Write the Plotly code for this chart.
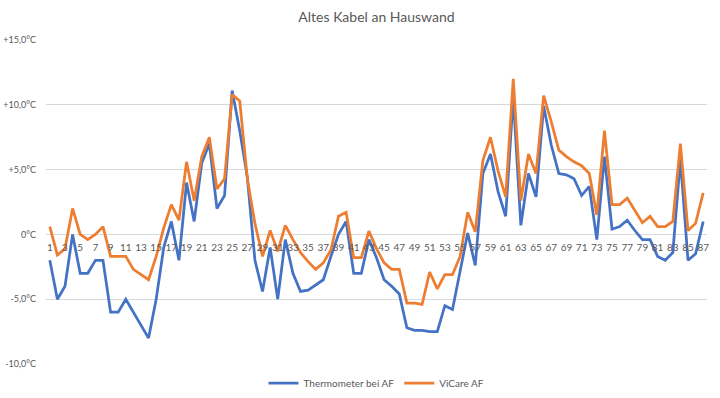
import plotly.graph_objects as go

categories = [str(i) for i in range(1, 88)]

thermometer = [-2, -5, -4, 0, -3, -3, -2, -2, -6, -6,
               -5, -6, -7, -8, -5, -1, 1, -2, 4, 1,
               5.5, 7, 2, 3, 11.1, 8, 4.4, -2, -4.4, -1,
               -5, -0.4, -3, -4.4, -4.3, -3.9, -3.5, -1.7, 0, 1,
               -3, -3, -0.4, -1.8, -3.5, -4, -4.6, -7.2, -7.4, -7.4,
               -7.5, -7.5, -5.5, -5.8, -2.7, 0.1, -2.4, 4.7, 6.2, 3.3,
               1.4, 10.6, 0.7, 4.7, 2.9, 9.9, 6.9, 4.7, 4.6, 4.3,
               3.0, 3.7, -0.4, 6.0, 0.4, 0.6, 1.1, 0.3, -0.4, -0.4,
               -1.7, -2.0, -1.4, 5.8, -2.0, -1.5, 1.0]

vicare = [0.6, -1.6, -1.1, 2, 0, -0.4, 0, 0.6, -1.7, -1.7,
          -1.7, -2.7, -3.1, -3.5, -1.7, 0.5, 2.3, 1.1, 5.6, 2.6,
          6, 7.5, 3.5, 4.3, 10.8, 10.3, 4.3, 0.85, -1.7, 0.3,
          -1.3, 0.7, -0.4, -1.4, -2.1, -2.7, -2.2, -1.2, 1.4, 1.7,
          -1.8, -1.8, 0.25, -1.1, -2.2, -2.7, -2.7, -5.3, -5.3, -5.4,
          -2.9, -4.2, -3.1, -3.1, -1.7, 1.7, 0.2, 5.7, 7.5, 4.9,
          2.9, 12.0, 2.6, 6.2, 4.7, 10.7, 8.7, 6.5, 6.0, 5.6,
          5.3, 4.7, 1.5, 8.0, 2.3, 2.3, 2.8, 1.9, 0.9, 1.4,
          0.6, 0.6, 1.0, 7.0, 0.3, 0.85, 3.2]

y_tickvals = [-10, -5, 0, 5, 10, 15]
y_ticktext = ["-10,0°C", "-5,0°C", "0°C", "+5,0°C", "+10,0°C", "+15,0°C"]
x_ticklabels = [str(i) for i in range(1, 88, 2)]

FONT = "Lato, 'Open Sans', sans-serif"
GREY = "#595959"

W, H = 720, 398

fig = go.Figure()
fig.add_trace(go.Scatter(x=categories, y=thermometer, mode="lines",
                         name="Thermometer bei AF",
                         line=dict(color="#4472C4", width=2.75)))
fig.add_trace(go.Scatter(x=categories, y=vicare, mode="lines",
                         name="ViCare AF",
                         line=dict(color="#ED7D31", width=2.75)))

fig.update_layout(
    width=W, height=H,
    paper_bgcolor="white", plot_bgcolor="white",
    margin=dict(l=46, r=13, t=40, b=34, autoexpand=False),
    title=dict(text="Altes Kabel an Hauswand", x=0.5, xanchor="center",
               xref="paper", y=1 - 17 / H, yanchor="middle",
               font=dict(family=FONT, size=14, color=GREY)),
    showlegend=True,
    legend=dict(orientation="h", x=0.5, xanchor="center",
                yref="container", y=15 / H, yanchor="middle",
                font=dict(family=FONT, size=10, color=GREY),
                itemwidth=30, tracegroupgap=0),
    xaxis=dict(type="category", range=[-0.5, 86.5],
               tickmode="array", tickvals=x_ticklabels, ticktext=x_ticklabels,
               showgrid=False, showline=False, zeroline=False, ticks="",
               anchor="free", position=0.4, automargin=False,
               ticklabelstandoff=6,
               tickfont=dict(family=FONT, size=10, color=GREY)),
    yaxis=dict(range=[-10, 15], tickmode="array", tickvals=y_tickvals,
               ticktext=y_ticktext, showgrid=True, gridcolor="#D9D9D9",
               gridwidth=1, zeroline=False, showline=False, ticks="",
               ticklabelstandoff=9, automargin=False,
               tickfont=dict(family=FONT, size=9, color=GREY)),
)

fig.write_html("out.html",
               config={"displayModeBar": False},
               post_script="document.body.style.margin='0';document.body.style.overflow='hidden';")
